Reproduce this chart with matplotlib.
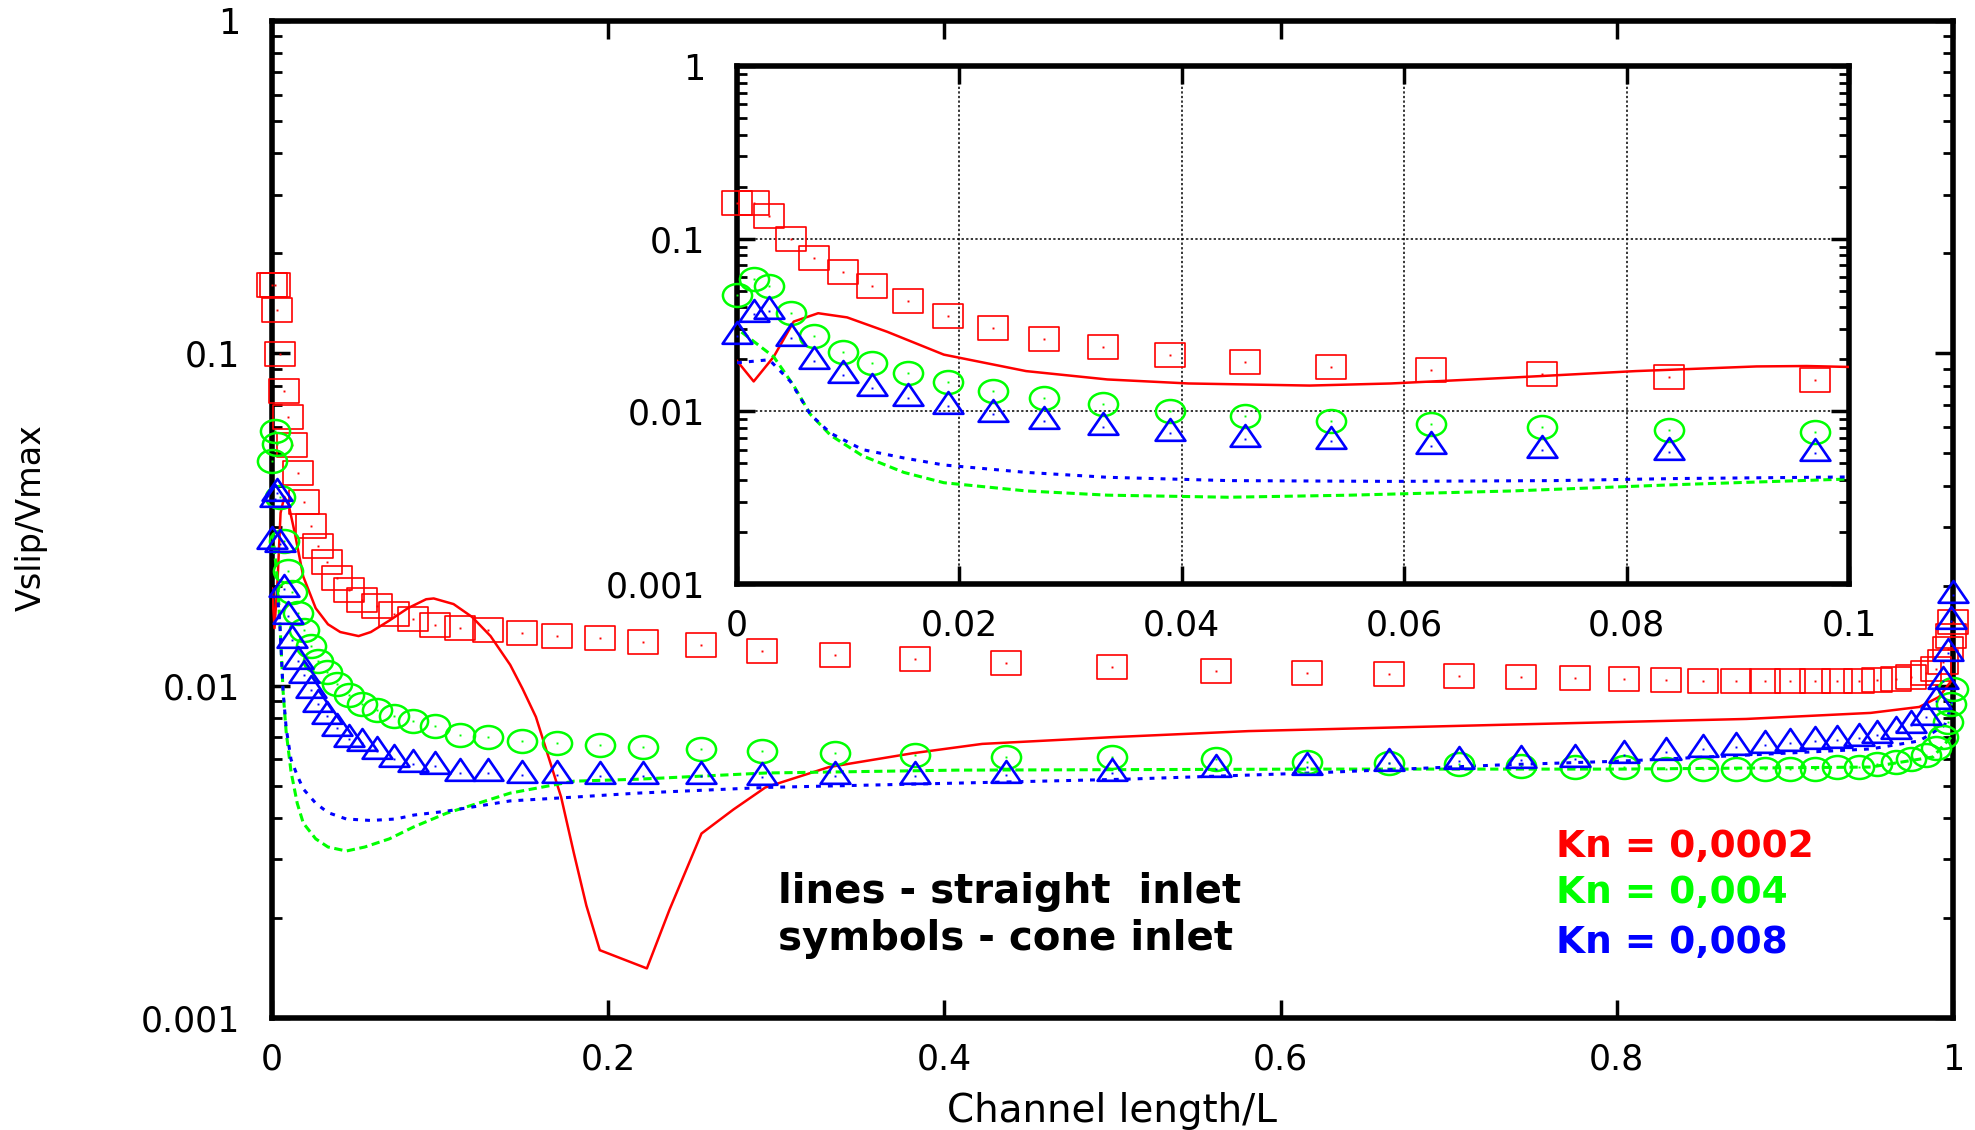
import numpy as np
import matplotlib
matplotlib.use("Agg")
import matplotlib.pyplot as plt
from matplotlib.path import Path
from matplotlib.transforms import Affine2D
from matplotlib.ticker import LogLocator, NullLocator, NullFormatter

# straight inlet (lines)
x_red = [0, 0.0015, 0.0033, 0.0051, 0.0073, 0.0099, 0.0135, 0.0186, 0.026, 0.0333, 0.0406,
         0.0515, 0.0588, 0.0698, 0.0808, 0.0917, 0.0962, 0.108, 0.119, 0.130, 0.1417, 0.149,
         0.157, 0.1645, 0.172, 0.1796, 0.187, 0.195, 0.223, 0.2365, 0.2555, 0.2745, 0.2935,
         0.3314, 0.381, 0.4225, 0.5, 0.581, 0.729, 0.877, 0.951, 0.980, 0.9917, 1.0]
y_red = [0.0196, 0.0149, 0.0207, 0.0331, 0.037, 0.035, 0.0289, 0.0213, 0.0171, 0.0153, 0.0145,
         0.0141, 0.0145, 0.0157, 0.0171, 0.0182, 0.0183, 0.0176, 0.0161, 0.0141, 0.01155, 0.0098,
         0.00805, 0.0061, 0.00462, 0.00313, 0.00218, 0.0016, 0.00141, 0.00212, 0.00359, 0.00424,
         0.00494, 0.00569, 0.00626, 0.00668, 0.00700, 0.0073, 0.00762, 0.00794, 0.00828, 0.00863,
         0.00925, 0.0105]

x_green = [0.0004, 0.0033, 0.0051, 0.0066, 0.0084, 0.0113, 0.015, 0.0186, 0.026, 0.0333, 0.0442,
           0.0552, 0.0698, 0.0844, 0.1037, 0.1417, 0.1796, 0.2176, 0.2935, 0.407, 0.618, 0.803,
           0.951, 0.988, 0.9988]
y_green = [0.0288, 0.0207, 0.0141, 0.0096, 0.00728, 0.00552, 0.00443, 0.00386, 0.00346, 0.00327,
           0.00318, 0.00327, 0.00346, 0.00376, 0.00413, 0.00475, 0.00516, 0.00523, 0.00546,
           0.00557, 0.00561, 0.00561, 0.00569, 0.0061, 0.007]

x_blue = [0, 0.0029, 0.0048, 0.0066, 0.0084, 0.0113, 0.015, 0.0186, 0.026, 0.0333, 0.0442, 0.0588,
          0.0735, 0.0844, 0.1037, 0.1417, 0.1796, 0.2176, 0.2935, 0.407, 0.507, 0.618, 0.729,
          0.803, 0.877, 0.951, 0.980, 0.995, 1.0]
y_blue = [0.0191, 0.0199, 0.0149, 0.0096, 0.00748, 0.006, 0.00537, 0.00489, 0.00443, 0.00415,
          0.00397, 0.00393, 0.00397, 0.00408, 0.00419, 0.0045, 0.00462, 0.00475, 0.00494, 0.00509,
          0.00523, 0.00546, 0.00577, 0.00593, 0.00618, 0.00645, 0.00682, 0.0076, 0.009]

# cone inlet (symbols), common grid
x_sym = [0, 0.0015, 0.0029, 0.0049, 0.0069, 0.0095, 0.0121, 0.0154, 0.019, 0.023, 0.0276, 0.0329,
         0.0389, 0.0457, 0.0534, 0.0624, 0.0724, 0.0838, 0.0969, 0.112, 0.1287, 0.1485, 0.1694,
         0.195, 0.2207, 0.2555, 0.2916, 0.3352, 0.3826, 0.4368, 0.4997, 0.5615, 0.616, 0.6643,
         0.706, 0.743, 0.775, 0.804, 0.829, 0.851, 0.871, 0.888, 0.903, 0.918, 0.931, 0.944,
         0.955, 0.966, 0.975, 0.984, 0.990, 0.994, 0.997, 0.999, 1.0]
y_sq = [0.16, 0.16, 0.135, 0.0998, 0.077, 0.0643, 0.053, 0.0437, 0.0356, 0.0302, 0.0263, 0.0236,
        0.0211, 0.0194, 0.0181, 0.0174, 0.0164, 0.0159, 0.0152, 0.0149, 0.0147, 0.01445, 0.0141,
        0.0139, 0.01355, 0.0133, 0.01274, 0.01239, 0.01205, 0.01172, 0.0114, 0.0111, 0.01094,
        0.01084, 0.0107, 0.01064, 0.01055, 0.0105, 0.0104, 0.01035, 0.01035, 0.0103, 0.0103,
        0.0103, 0.0103, 0.01035, 0.0104, 0.0105, 0.01064, 0.01094, 0.0112, 0.0118, 0.0129,
        0.0141, 0.0155]
y_circ = [0.0474, 0.0585, 0.0535, 0.037, 0.0273, 0.0221, 0.0191, 0.0166, 0.0147, 0.0132, 0.0119,
          0.0110, 0.0101, 0.0094, 0.00883, 0.00845, 0.00813, 0.00782, 0.00756, 0.00711, 0.00701,
          0.00682, 0.00673, 0.00664, 0.00655, 0.00645, 0.00636, 0.00626, 0.00618, 0.0061, 0.0061,
          0.006, 0.0059, 0.00585, 0.0058, 0.00575, 0.0057, 0.0057, 0.0056, 0.0056, 0.0056, 0.0056,
          0.0056, 0.0056, 0.0057, 0.0057, 0.0058, 0.0059, 0.006, 0.0062, 0.0065, 0.007, 0.0078,
          0.0088, 0.0098]
y_tri = [0.0273, 0.0364, 0.038, 0.0266, 0.0196, 0.0162, 0.0137, 0.0119, 0.0108, 0.0097, 0.00883,
         0.00813, 0.00748, 0.00689, 0.0067, 0.00634, 0.006, 0.00583, 0.00574, 0.00546, 0.00546,
         0.00538, 0.00538, 0.00533, 0.00533, 0.00533, 0.0053, 0.00533, 0.00533, 0.00538, 0.00546,
         0.0056, 0.00568, 0.00585, 0.00593, 0.00596, 0.00601, 0.00618, 0.00632, 0.00645, 0.00654,
         0.00663, 0.00673, 0.00682, 0.00685, 0.00697, 0.00711, 0.00731, 0.00762, 0.00806, 0.009,
         0.01035, 0.01257, 0.0157, 0.0188]

kn_labels = ["Kn = 0,0002", "Kn = 0,004", "Kn = 0,008"]
RED, GREEN, BLUE = "#ff0000", "#00ff00", "#0000ff"

# gnuplot symbols come out a bit wider than tall
m_sq = Path([(-1.25, -1), (1.25, -1), (1.25, 1), (-1.25, 1), (-1.25, -1)],
            [Path.MOVETO, Path.LINETO, Path.LINETO, Path.LINETO, Path.CLOSEPOLY])
m_circ = Path.unit_circle().transformed(Affine2D().scale(1.27, 1.0))
m_tri = Path([(-1, -0.49), (1, -0.49), (0, 0.97), (-1, -0.49)],
             [Path.MOVETO, Path.LINETO, Path.LINETO, Path.CLOSEPOLY])


def draw_all(a, xmax):
    a.plot(x_red, y_red, color=RED, lw=1.8, zorder=3)
    a.plot(x_green, y_green, color=GREEN, lw=2.2, ls=(0, (2.7, 1.5)), zorder=3)
    a.plot(x_blue, y_blue, color=BLUE, lw=2.2, ls=(0, (1.6, 2.3)), zorder=3)
    xs = np.array(x_sym)
    keep = xs <= xmax
    for ys, mk, ms, mw, c in [(y_sq, m_sq, 21.5, 1.2, RED), (y_circ, m_circ, 21, 1.8, GREEN),
                              (y_tri, m_tri, 21.5, 1.9, BLUE)]:
        ys = np.array(ys)
        a.plot(xs[keep], ys[keep], ls="none", marker=mk, ms=ms, mfc="none", mec=c, mew=mw,
               clip_on=False, zorder=4)
        a.plot(xs[keep], ys[keep], ls="none", marker="s", ms=1.4, color=c, mew=0,
               clip_on=False, zorder=4)


def style_axes(a, xt, xl, xpad, ypad):
    a.set_yscale("log")
    a.set_ylim(1e-3, 1)
    a.set_xticks(xt, xl)
    a.set_yticks([1e-3, 1e-2, 1e-1, 1], ["0.001", "0.01", "0.1", "1"])
    a.yaxis.set_minor_locator(LogLocator(base=10, subs=range(2, 10)))
    a.yaxis.set_minor_formatter(NullFormatter())
    a.xaxis.set_minor_locator(NullLocator())
    a.tick_params(which="both", direction="in", top=True, right=True, labelsize=25)
    a.tick_params(which="major", length=13, width=2.5)
    a.tick_params(which="minor", length=7, width=2)
    a.tick_params(axis="x", pad=xpad)
    a.tick_params(axis="y", pad=ypad)
    for s in a.spines.values():
        s.set_linewidth(4)


fig = plt.figure(figsize=(19.75, 11.3), dpi=100)
ax = fig.add_axes([272 / 1975, 1 - 1018 / 1130, 1681 / 1975, 997 / 1130])
draw_all(ax, 1.0)
ax.set_xlim(0, 1)
style_axes(ax, [0, 0.2, 0.4, 0.6, 0.8, 1], ["0", "0.2", "0.4", "0.6", "0.8", "1"], 18, 23)

ax.text(0.301, 0.1153, "lines - straight  inlet", transform=ax.transAxes,
        fontsize=29, fontweight="bold", va="baseline")
ax.text(0.301, 0.0682, "symbols - cone inlet", transform=ax.transAxes,
        fontsize=29, fontweight="bold", va="baseline")
for lab, c, yy in zip(kn_labels, [RED, GREEN, BLUE], [0.1615, 0.1153, 0.0652]):
    ax.text(0.764, yy, lab, color=c, transform=ax.transAxes,
            fontsize=27, fontweight="bold", va="baseline")

fig.text(31 / 1975, 1 - 518 / 1130, "Vslip/Vmax", rotation=90, fontsize=24,
         ha="center", va="center")
fig.text(1112 / 1975, 1 - 1111 / 1130, "Channel length/L", fontsize=28,
         ha="center", va="center")

# inset: zoom on the inlet
axin = fig.add_axes([737 / 1975, 1 - 584 / 1130, 1112 / 1975, 518 / 1130])
axin.set_facecolor("white")
draw_all(axin, 0.1)
axin.set_xlim(0, 0.1)
style_axes(axin, [0, 0.02, 0.04, 0.06, 0.08, 0.1],
           ["0", "0.02", "0.04", "0.06", "0.08", "0.1"], 18, 23)
axin.set_axisbelow(True)
axin.grid(True, which="major", color="black", ls=(0, (1.5, 1.5)), lw=1.1)

fig.savefig("out.png", dpi=100)
